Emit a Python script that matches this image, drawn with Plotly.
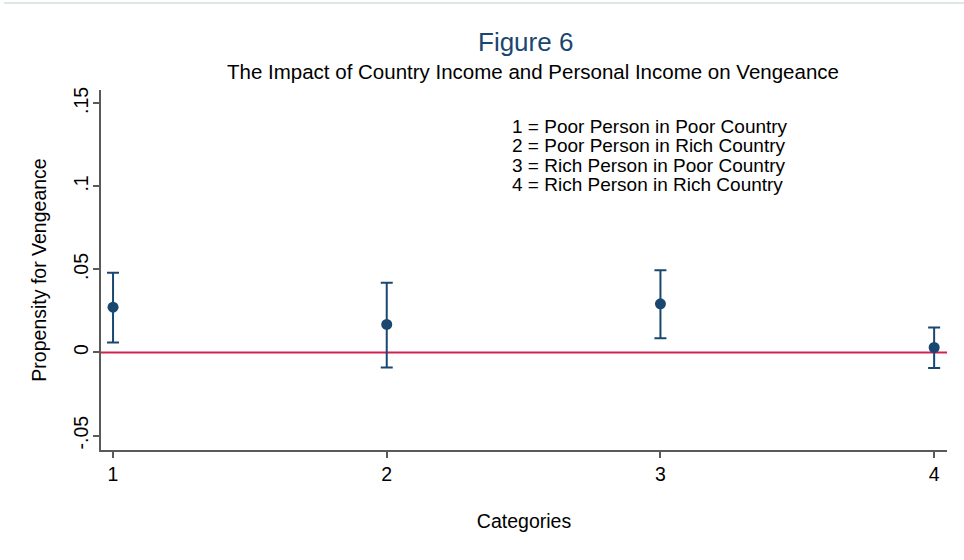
import plotly.graph_objects as go

# Point estimates and 95% confidence bounds for each income category
categories = [1, 2, 3, 4]
estimates = [0.0273, 0.0169, 0.0293, 0.0030]
upper_ci = [0.0480, 0.0420, 0.0495, 0.0150]
lower_ci = [0.0060, -0.0090, 0.0085, -0.0093]

y_ticks = [-0.05, 0, 0.05, 0.1, 0.15]
y_tick_text = ["-.05", "0", ".05", ".1", ".15"]

legend_lines = [
    "1 = Poor Person in Poor Country",
    "2 = Poor Person in Rich Country",
    "3 = Rich Person in Poor Country",
    "4 = Rich Person in Rich Country",
]

NAVY = "#1a476f"
CRANBERRY = "#d3204e"
AXIS = "#5a5a5a"
FONT = "Liberation Sans, Arial, sans-serif"

# plot region in pixels
L, R, T, B = 101, 947, 90, 450


def px(x):
    return (x - L) / (R - L)


def py(y):
    return (B - y) / (B - T)


err_plus = [u - e for u, e in zip(upper_ci, estimates)]
err_minus = [e - l for e, l in zip(estimates, lower_ci)]

fig = go.Figure()
fig.add_trace(go.Scatter(
    x=categories, y=estimates, mode="markers",
    marker=dict(color=NAVY, size=11),
    error_y=dict(type="data", array=err_plus, arrayminus=err_minus,
                 color=NAVY, thickness=2, width=6),
    showlegend=False,
))

# Reference line at zero across the plot region
fig.add_shape(type="line", xref="paper", x0=0, x1=1, yref="y", y0=0, y1=0,
              line=dict(color=CRANBERRY, width=2), layer="below")

# Thin frame line along the top of the graph region
fig.add_shape(type="line", xref="paper", yref="paper",
              x0=px(4), x1=px(964), y0=py(3), y1=py(3),
              line=dict(color="#dfe6e6", width=2))

fig.add_annotation(text="Figure 6", xref="paper", yref="paper",
                   x=px(525), y=py(42),
                   showarrow=False, font=dict(size=26, color=NAVY, family=FONT),
                   xanchor="center", yanchor="middle")
fig.add_annotation(text="The Impact of Country Income and Personal Income on Vengeance",
                   xref="paper", yref="paper",
                   x=px(533), y=py(72),
                   showarrow=False, font=dict(size=20.5, color="black", family=FONT),
                   xanchor="center", yanchor="middle")

# Category key, one line per annotation for tight spacing
for line, ypix in zip(legend_lines, [126, 145.5, 165, 184.5]):
    fig.add_annotation(text=line, xref="paper", yref="paper",
                       x=px(510), y=py(ypix), showarrow=False,
                       font=dict(size=19, color="black", family=FONT),
                       xanchor="left", yanchor="middle")

fig.update_xaxes(
    range=[0.956, 4.047], tickvals=categories, ticktext=[str(c) for c in categories],
    showline=True, linecolor=AXIS, linewidth=2, showgrid=False, zeroline=False,
    ticks="outside", ticklen=6, tickcolor=AXIS, tickwidth=1.5,
    tickfont=dict(size=19.5, color="black", family=FONT),
    title=dict(text="Categories", standoff=30,
               font=dict(size=19.5, color="black", family=FONT)),
)
fig.update_yaxes(
    range=[-0.0587, 0.158], tickvals=y_ticks, ticktext=y_tick_text, tickangle=-90,
    showline=True, linecolor=AXIS, linewidth=2, showgrid=False, zeroline=False,
    ticks="outside", ticklen=6, tickcolor=AXIS, tickwidth=1.5,
    ticklabelstandoff=-3,
    tickfont=dict(size=19.5, color="black", family=FONT),
    title=dict(text="Propensity for Vengeance", standoff=18,
               font=dict(size=19.5, color="black", family=FONT)),
)

fig.update_layout(
    width=964, height=560,
    margin=dict(l=L, r=964 - R, t=T, b=560 - B),
    plot_bgcolor="white", paper_bgcolor="white",
    font=dict(family=FONT),
)

fig.write_html("out.html")
